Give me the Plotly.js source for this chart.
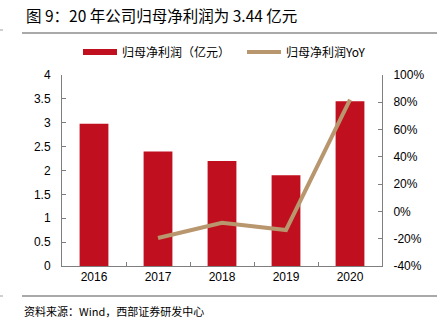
<!DOCTYPE html>
<html><head><meta charset="utf-8">
<script src="https://cdn.plot.ly/plotly-3.0.1.min.js"></script>
<style>html,body{margin:0;padding:0;background:#fff}</style>
</head><body><div id="chart" style="width:442px;height:332px"></div>
<script>
const years = ['2016','2017','2018','2019','2020'];
const profit = [2.98, 2.40, 2.20, 1.90, 3.45];
const yoyYears = ['2017','2018','2019','2020'];
const yoy = [-19.5, -8.3, -13.6, 82];
const leftTicks = [0,0.5,1,1.5,2,2.5,3,3.5,4];
const leftTickText = ['0','0.5','1','1.5','2','2.5','3','3.5','4'];
const rightTicks = [-40,-20,0,20,40,60,80,100];
const rightTickText = ['-40%','-20%','0%','20%','40%','60%','80%','100%'];

const font = 'Liberation Sans, Arial, Noto Sans CJK SC, sans-serif';
const cjk = 'Noto Sans CJK SC, Liberation Sans, sans-serif';
const red = '#C00F1E';
const tan = '#B8966E';

const data = [
  {type:'bar', x:years, y:profit, name:'归母净利润（亿元）', marker:{color:red}, width:0.45, yaxis:'y', showlegend:false},
  {type:'scatter', mode:'lines', x:[null], y:[null], name:'归母净利润（亿元）', line:{color:red, width:6}, yaxis:'y', showlegend:true, legend:'legend', hoverinfo:'skip'},
  {type:'scatter', mode:'lines', x:yoyYears, y:yoy, name:'归母净利润YoY', line:{color:tan, width:4}, yaxis:'y2', legend:'legend2'}
];
const axisLine = '#7f7f7f';
const legendFont = {family:cjk, size:12, color:'#000'};
const layout = {
  width:442, height:332,
  margin:{l:62, r:60, t:75, b:66},
  paper_bgcolor:'#fff', plot_bgcolor:'#fff',
  font:{family:font, size:12, color:'#000'},
  showlegend:true,
  legend:{orientation:'h', x:(78-62)/320, y:1.12, xanchor:'left', yanchor:'middle', font:legendFont, itemwidth:34, bgcolor:'rgba(0,0,0,0)'},
  legend2:{orientation:'h', x:(242-62)/320, y:1.12, xanchor:'left', yanchor:'middle', font:legendFont, itemwidth:34, bgcolor:'rgba(0,0,0,0)'},
  xaxis:{type:'category', showline:true, linecolor:axisLine, linewidth:1, ticks:'inside', ticklen:4, tickcolor:axisLine, tickson:'boundaries', showgrid:false, zeroline:false, tickfont:{size:12}},
  yaxis:{range:[0,4], tickvals:leftTicks, ticktext:leftTickText, showline:true, linecolor:axisLine, ticks:'inside', ticklen:4, tickcolor:axisLine, showgrid:false, zeroline:false, ticklabelstandoff:8, tickfont:{size:12}},
  yaxis2:{overlaying:'y', side:'right', range:[-40,100], tickvals:rightTicks, ticktext:rightTickText, showline:true, linecolor:axisLine, ticks:'inside', ticklen:4, tickcolor:axisLine, showgrid:false, zeroline:false, ticklabelstandoff:8, tickfont:{size:12}},
  shapes:[
    {type:'line', xref:'paper', yref:'paper', xsizemode:'pixel', xanchor:0, x0:-40, x1:375, y0:1+(75-33)/191, y1:1+(75-33)/191, line:{color:'#8c8c8c', width:1.5}},
    {type:'line', xref:'paper', yref:'paper', xsizemode:'pixel', xanchor:0, x0:-40, x1:375, y0:-(296-266)/191, y1:-(296-266)/191, line:{color:'#8c8c8c', width:1.5}},
    {type:'line', xref:'paper', yref:'paper', xsizemode:'pixel', xanchor:0, x0:-62, x1:-59, y0:1+(75-30)/191, y1:1+(75-30)/191, line:{color:'#a0a0a0', width:1}},
    {type:'line', xref:'paper', yref:'paper', xsizemode:'pixel', xanchor:0, x0:-62, x1:-59, y0:-(296-266)/191, y1:-(296-266)/191, line:{color:'#a0a0a0', width:1}}
  ],
  annotations:[
    {text:'图 9：20 年公司归母净利润为 3.44 亿元', xref:'paper', yref:'paper', x:0, xshift:-38, y:1+(75-15)/191, xanchor:'left', yanchor:'middle', showarrow:false, font:{family:cjk, size:15.5, color:'#000'}},
    {text:'资料来源：Wind，西部证券研发中心', xref:'paper', yref:'paper', x:0, xshift:-40, y:-(311-266)/191, xanchor:'left', yanchor:'middle', showarrow:false, font:{family:cjk, size:11, color:'#000'}}
  ]
};
Plotly.newPlot('chart', data, layout, {displayModeBar:false, staticPlot:true});
</script></body></html>
